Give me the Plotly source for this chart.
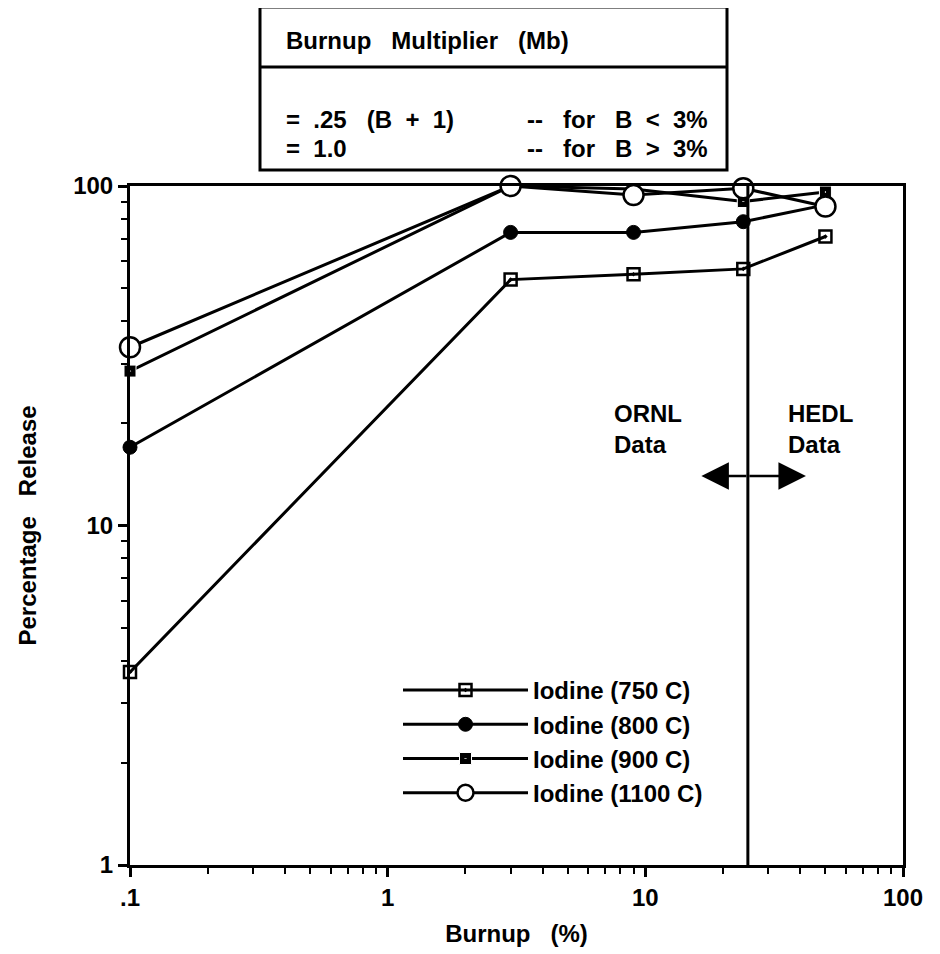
import math
import plotly.graph_objects as go

# ---------------- data ----------------
burnup = [0.1, 3, 9, 24, 50]
iodine_750 = [3.7, 53, 55, 57, 71]
iodine_800 = [17, 73, 73, 78.5, 88]
iodine_900 = [28.5, 100, 98, 90, 96]
iodine_1100 = [33.5, 100, 94, 98.5, 87]
series_names = ["Iodine (750 C)", "Iodine (800 C)", "Iodine (900 C)", "Iodine (1100 C)"]

x_tick_vals = [0.1, 1, 10, 100]
x_tick_text = [".1", "1", "10", "100"]
y_tick_vals = [1, 10, 100]
y_tick_text = ["1", "10", "100"]

divider_burnup = 25          # ORNL / HEDL boundary
arrow_left, arrow_right, arrow_y = 16.5, 42, 14

# ---------------- layout helpers (screen coordinates) ----------------
OFF = 8                      # default page margin of the html body
W, H = 940 - 2 * OFF, 954 - OFF
PL, PR, PT, PB = 130, 903, 186, 865


def px(x):
    return (x - PL) / (PR - PL)


def py(y):
    return (PB - y) / (PB - PT)


FONT = "Liberation Sans, Arial, sans-serif"
fs = 24

fig = go.Figure()

styles = [
    dict(symbol="square-open-dot", size=12, color="black", line=dict(color="black", width=2.5)),
    dict(symbol="circle", size=14, color="black", line=dict(color="black", width=1)),
    dict(symbol="square-dot", size=12, color="black", line=dict(color="white", width=1)),
    dict(symbol="circle", size=20, color="white", line=dict(color="black", width=2.5)),
]
for name, vals, mk in zip(series_names, [iodine_750, iodine_800, iodine_900, iodine_1100], styles):
    fig.add_trace(go.Scatter(
        x=burnup, y=vals, name=name, mode="lines+markers",
        line=dict(color="black", width=3),
        marker=mk, legendgroup=name, cliponaxis=False,
    ))

minor_vals = [k * 10 ** e for e in range(-1, 2) for k in range(2, 10)]
minor_y = [k * 10 ** e for e in range(0, 2) for k in range(2, 10)]

fig.update_xaxes(
    type="log", range=[-1, 2], showline=True, linecolor="black", linewidth=3, mirror=True,
    showgrid=False, zeroline=False, ticks="outside", ticklen=9, tickwidth=3, tickcolor="black",
    tickvals=x_tick_vals, ticktext=x_tick_text, automargin=False,
    tickfont=dict(family=FONT, size=fs, color="black", weight="bold"),
    minor=dict(tickvals=minor_vals, ticks="outside", ticklen=6, tickwidth=2, tickcolor="black", showgrid=False),
    title=dict(text="<b>Burnup   (%)</b>", font=dict(family=FONT, size=fs, color="black"), standoff=16),
)
fig.update_yaxes(
    type="log", range=[0, 2], showline=True, linecolor="black", linewidth=3, mirror=True,
    showgrid=False, zeroline=False, ticks="outside", ticklen=9, tickwidth=3, tickcolor="black",
    tickvals=y_tick_vals, ticktext=y_tick_text, automargin=False,
    tickfont=dict(family=FONT, size=fs, color="black", weight="bold"),
    minor=dict(tickvals=minor_y, ticks="outside", ticklen=6, tickwidth=2, tickcolor="black", showgrid=False),
    title=dict(text="<b>Percentage   Release</b>", font=dict(family=FONT, size=fs, color="black"), standoff=30),
)

# boundary line
fig.add_shape(type="line", xref="x", yref="paper", x0=divider_burnup, x1=divider_burnup, y0=0, y1=1,
              line=dict(color="black", width=3))

# double arrow
for end in (arrow_left, arrow_right):
    fig.add_annotation(x=math.log10(end), y=math.log10(arrow_y), ax=math.log10(divider_burnup),
                       ay=math.log10(arrow_y), xref="x", yref="y", axref="x", ayref="y",
                       text="", showarrow=True, arrowhead=2, arrowsize=2.2, arrowwidth=2.5,
                       arrowcolor="black")

# ORNL / HEDL labels
fig.add_annotation(x=px(612), y=py(429), xref="paper", yref="paper", xanchor="left", yanchor="middle",
                   align="left", showarrow=False, text="<b>ORNL<br>Data</b>",
                   font=dict(family=FONT, size=fs, color="black"))
fig.add_annotation(x=px(786), y=py(429), xref="paper", yref="paper", xanchor="left", yanchor="middle",
                   align="left", showarrow=False, text="<b>HEDL<br>Data</b>",
                   font=dict(family=FONT, size=fs, color="black"))

# top box
fig.add_shape(type="rect", xref="paper", yref="paper", x0=px(260), x1=px(727), y0=py(170), y1=py(7),
              line=dict(color="black", width=3), fillcolor="white")
fig.add_shape(type="line", xref="paper", yref="paper", x0=px(260), x1=px(727), y0=py(67), y1=py(67),
              line=dict(color="black", width=3))
box_font = dict(family=FONT, size=fs, color="black")
fig.add_annotation(x=px(284), y=py(40), xref="paper", yref="paper", xanchor="left", yanchor="middle",
                   showarrow=False, text="<b>Burnup   Multiplier   (Mb)</b>", font=box_font)
fig.add_annotation(x=px(284), y=py(120), xref="paper", yref="paper", xanchor="left", yanchor="middle",
                   showarrow=False, text="<b>=  .25   (B  +  1)</b>", font=box_font)
fig.add_annotation(x=px(710), y=py(120), xref="paper", yref="paper", xanchor="right", yanchor="middle",
                   showarrow=False, text="<b>--   for   B  <  3%</b>", font=box_font)
fig.add_annotation(x=px(284), y=py(148), xref="paper", yref="paper", xanchor="left", yanchor="middle",
                   showarrow=False, text="<b>=  1.0</b>", font=box_font)
fig.add_annotation(x=px(710), y=py(148), xref="paper", yref="paper", xanchor="right", yanchor="middle",
                   showarrow=False, text="<b>--   for   B  >  3%</b>", font=box_font)

fig.update_layout(
    width=W, height=H,
    margin=dict(l=PL - OFF, r=W - (PR - OFF), t=PT - OFF, b=H - (PB - OFF), autoexpand=False),
    plot_bgcolor="white", paper_bgcolor="white",
    font=dict(family=FONT, size=fs, color="black"),
    showlegend=True,
    legend=dict(x=px(398), y=py(668), xanchor="left", yanchor="top", bgcolor="rgba(0,0,0,0)",
                font=dict(family=FONT, size=fs, color="black", weight="bold"),
                itemwidth=125, tracegroupgap=11, traceorder="normal"),
)

fig.write_html("out.html")
